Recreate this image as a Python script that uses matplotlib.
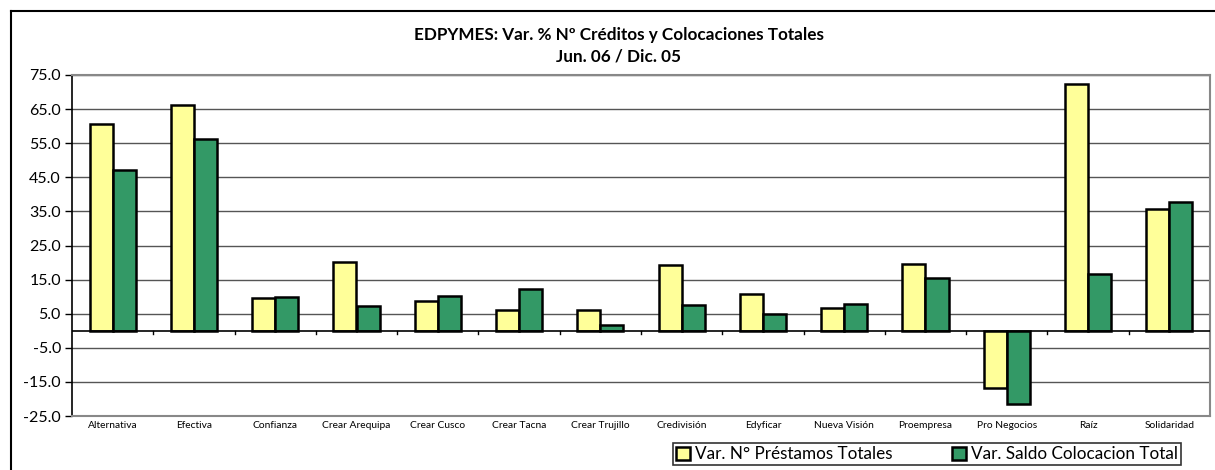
"""EDPYMES: Var. % creditos y colocaciones, Jun. 06 / Dic. 05 (grouped bars)."""

import matplotlib
matplotlib.use("Agg")
import matplotlib.pyplot as plt
from matplotlib.lines import Line2D
from matplotlib.ticker import FormatStrFormatter
import numpy as np

plt.rcParams["font.family"] = ["Lato", "DejaVu Sans"]

categories = [
    "Alternativa", "Efectiva", "Confianza", "Crear Arequipa", "Crear Cusco",
    "Crear Tacna", "Crear Trujillo", "Credivisión", "Edyficar", "Nueva Visión",
    "Proempresa", "Pro Negocios", "Raíz", "Solidaridad",
]
var_prestamos = [60.6, 66.3, 9.5, 20.3, 8.7, 6.1, 6.1, 19.3, 10.9, 6.8, 19.7, -16.7, 72.5, 35.7]
var_saldo = [47.1, 56.1, 10.0, 7.3, 10.2, 12.2, 1.8, 7.6, 5.0, 7.9, 15.6, -21.6, 16.7, 37.9]

series_labels = ["Var. N° Préstamos Totales", "Var. Saldo Colocacion Total"]
COLORS = ["#FFFF99", "#339966"]

W, H = 1215, 470
fig = plt.figure(figsize=(W / 100, H / 100), dpi=100)
ax = fig.add_axes([72 / W, 1 - 416 / H, (1210 - 72) / W, (416 - 75) / H])

x = np.arange(len(categories))
bw = 0.283
for i, (vals, lab, col) in enumerate(zip([var_prestamos, var_saldo], series_labels, COLORS)):
    ax.bar(x + (i - 0.5) * bw, vals, width=bw, color=col, edgecolor="black",
           linewidth=1.8, label=lab, zorder=3)

ax.set_xlim(-0.5, len(categories) - 0.5)
ax.set_ylim(-25, 75)
ax.set_yticks(np.arange(-25, 76, 10))
ax.yaxis.set_major_formatter(FormatStrFormatter("%.1f"))
ax.grid(axis="y", color="#555555", linewidth=1.0, zorder=0)
ax.tick_params(axis="y", labelsize=11.5, length=5, width=1, color="black", pad=3)

# category axis crosses at zero, tick marks between categories
ax.axhline(0, color="black", linewidth=1.2, zorder=4)
ax.set_xticks([])
for b in np.arange(0.5, len(categories) - 0.5, 1.0):
    ax.plot([b, b], [0, -1.0], color="black", linewidth=1, zorder=4, clip_on=False)
for xi, name in zip(x, categories):
    ax.text(xi, -27.7, name, ha="center", va="center", fontsize=7.4)

for side in ["top", "right", "bottom"]:
    ax.spines[side].set_color("#888888")
    ax.spines[side].set_linewidth(1.5)
ax.spines["left"].set_color("black")
ax.spines["left"].set_linewidth(1.2)

fig.text(619 / W, 1 - 35 / H, "EDPYMES: Var. % Nº Créditos y Colocaciones Totales",
         ha="center", va="center", fontsize=12.3, fontweight="bold")
fig.text(619 / W, 1 - 57 / H, "Jun. 06 / Dic. 05",
         ha="center", va="center", fontsize=12.3, fontweight="bold")

leg = fig.legend(loc="center", bbox_to_anchor=(927 / W, 1 - 454 / H), ncol=2,
                 fontsize=12.3, frameon=True, fancybox=False, handlelength=0.8,
                 handleheight=0.8, handletextpad=0.3, columnspacing=3.5,
                 borderpad=0.2, borderaxespad=0)
leg.get_frame().set_edgecolor("black")
leg.get_frame().set_linewidth(1.2)

# outer chart border (cut off on the right and bottom)
fig.add_artist(Line2D([11 / W, 1], [1 - 11 / H, 1 - 11 / H], transform=fig.transFigure,
                      color="black", linewidth=1.5))
fig.add_artist(Line2D([11 / W, 11 / W], [0, 1 - 11 / H], transform=fig.transFigure,
                      color="black", linewidth=1.5))

fig.savefig("out.png", dpi=100)
